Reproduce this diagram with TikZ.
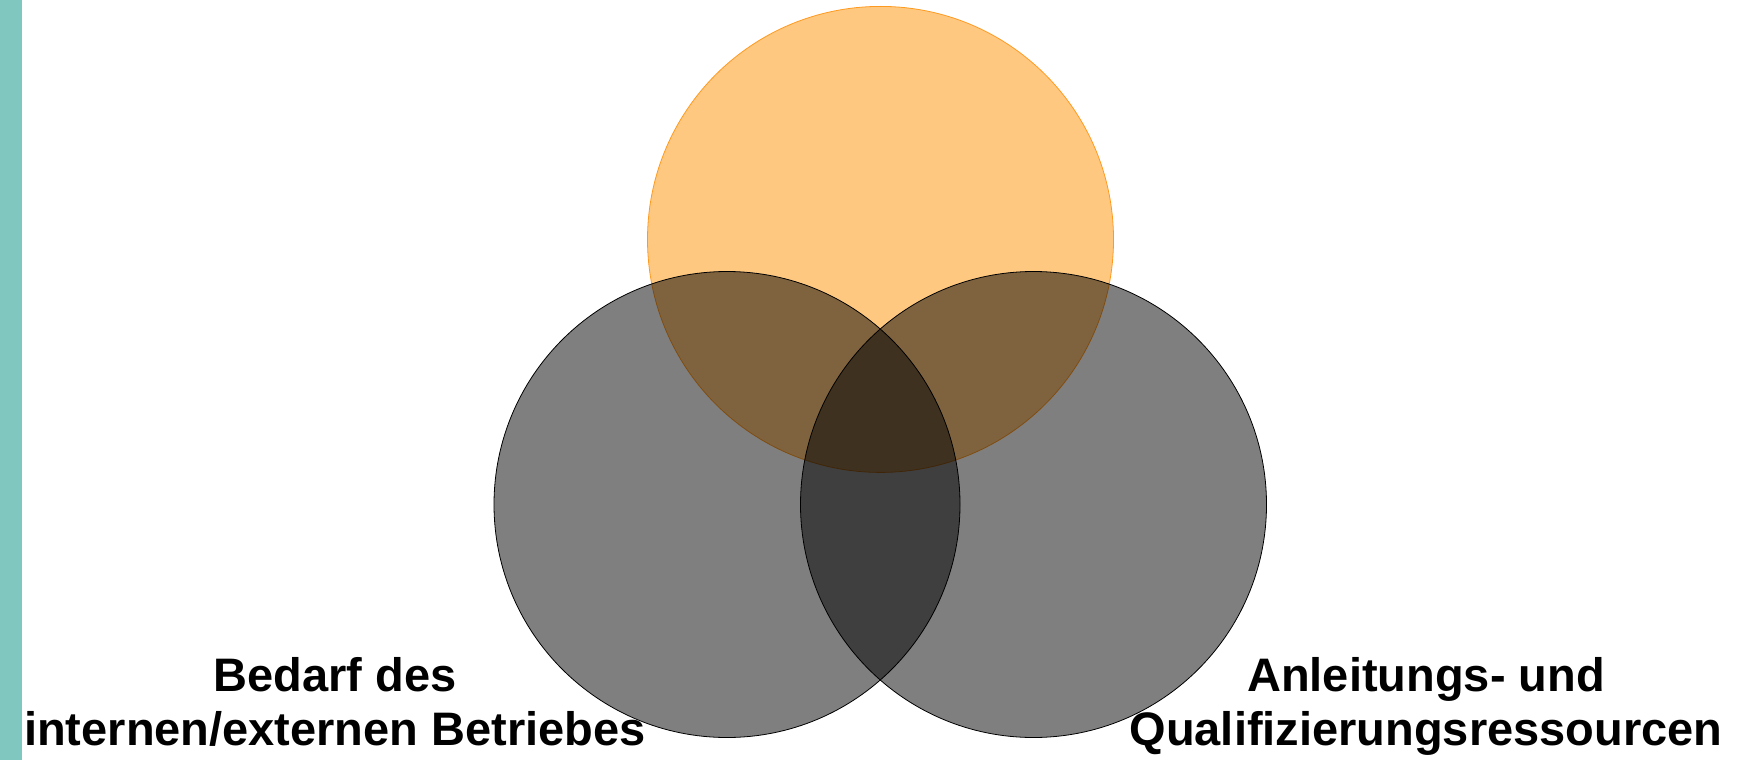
\documentclass[tikz,border=0pt]{standalone}
\usepackage{fontspec}
\setmainfont{Liberation Sans}
\definecolor{teal}{HTML}{80C7C0}
\definecolor{orangefill}{HTML}{FFC880}
\definecolor{orangeline}{HTML}{FF9A20}
\begin{document}
\begin{tikzpicture}[x=1pt,y=-1pt,
  ring/.style={circle,inner sep=0pt,minimum size=466pt},
  topring/.style={ring,fill=orangefill,draw=orangeline,line width=0.8pt},
  grayring/.style={ring,fill=black,fill opacity=0.5,draw=black,draw opacity=1,line width=0.8pt},
  lbl/.style={align=center,font=\fontsize{47}{53.6}\selectfont\bfseries,inner sep=0pt,anchor=base}]
\useasboundingbox (0,0) rectangle (1750,760);
\fill[white] (0,0) rectangle (1750,760);
\fill[teal] (0,0) rectangle (22,760);
\node[topring] (top) at (880.5,239.4) {};
\node[grayring] (left) at (727,504.5) {};
\node[grayring] (right) at (1033.5,504.5) {};
\node[lbl] (ltxt) at (335,745.5) {Bedarf des\\internen/externen Betriebes};
\node[lbl] (rtxt) at (1426,745.5) {Anleitungs- und\\Qualifizierungsressourcen};
\end{tikzpicture}
\end{document}
